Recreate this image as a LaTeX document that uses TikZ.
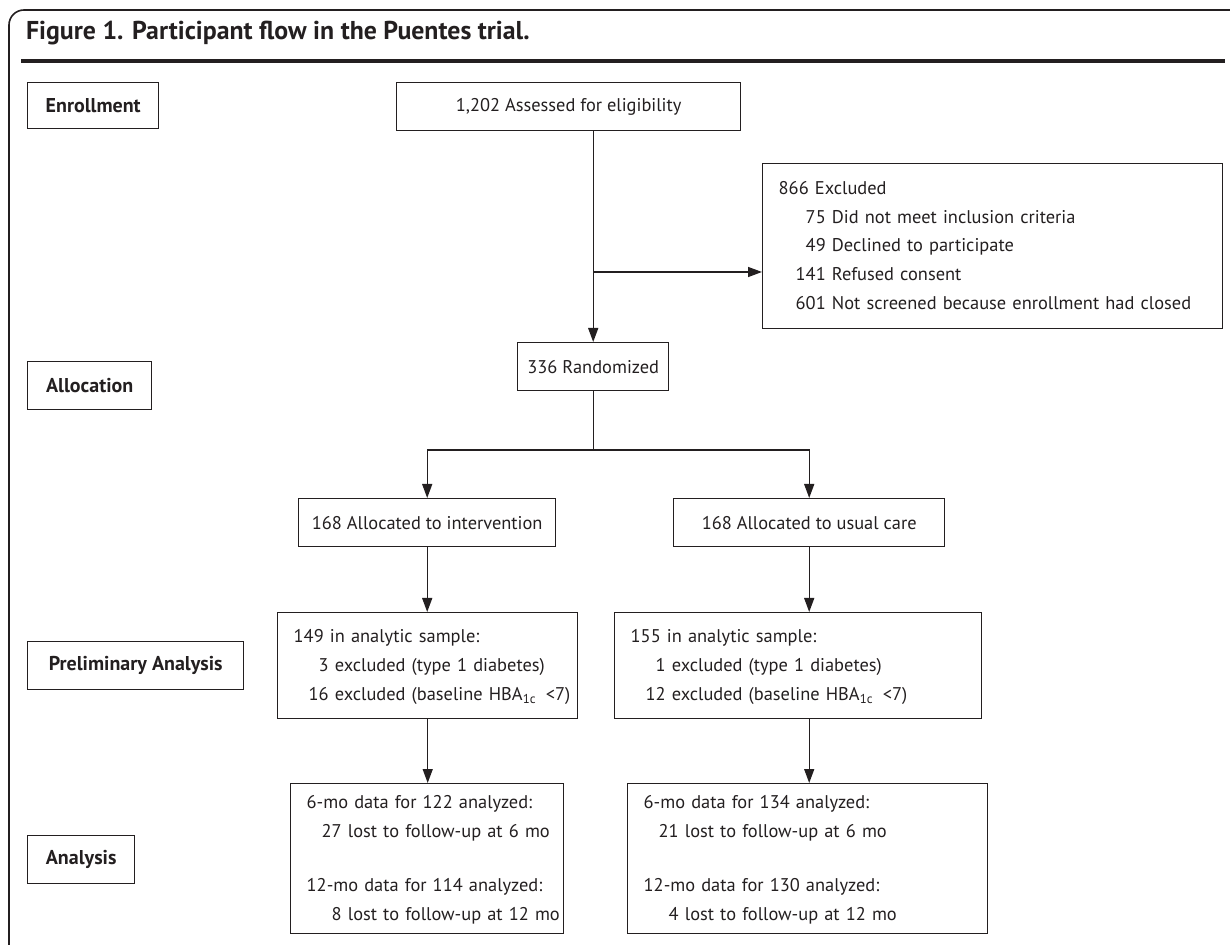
\documentclass[tikz,border=0pt]{standalone}
\usepackage{fontspec}
\setmainfont{PT Sans}
\usepackage{xcolor}
\usetikzlibrary{arrows.meta}
\definecolor{ink}{RGB}{35,31,32}
\renewcommand{\arraystretch}{1.2}

\begin{document}
\begin{tikzpicture}[x=0.5pt, y=-0.5pt, color=ink,
    every node/.style={font=\fontsize{9.2}{12}\selectfont},
    stage/.style={draw, line width=0.7pt, anchor=north west, inner sep=0pt,
      font=\fontsize{10}{12}\selectfont\bfseries},
    flowbox/.style={draw, line width=0.7pt, anchor=north west, inner sep=0pt},
    listbox/.style={flowbox, align=left, inner xsep=8pt},
    flowline/.style={line width=0.7pt},
    flowarrow/.style={flowline, -{Triangle[length=7pt, width=5pt]}}]
    \useasboundingbox (0,0) rectangle (1230,945);

    % Frame and heading
    \draw[line width=0.8pt, rounded corners=7.5pt] (9,945) -- (9,10) -- (1230,10);
    \node[anchor=west, font=\fontsize{12.9}{14}\selectfont\bfseries] (title) at (19,33)
      {Figure 1. Participant flow in the Puentes trial.};
    \draw[line width=2pt] (21,61) -- (1225,61);

    % Stage labels on the left
    \node[stage, minimum width=65.5pt, minimum height=23pt] (enroll) at (27,82) {Enrollment};
    \node[stage, minimum width=62pt, minimum height=24pt] (alloc) at (27,361) {Allocation};
    \node[stage, minimum width=108pt, minimum height=24pt] (prelim) at (27,641) {Preliminary Analysis};
    \node[stage, minimum width=53.5pt, minimum height=24pt] (analys) at (27,835) {Analysis};

    % Enrollment
    \node[flowbox, minimum width=172pt, minimum height=24pt] (assess) at (396,82)
      {1,202 Assessed for eligibility};
    \node[listbox, text width=214pt, minimum height=82.5pt] (excl) at (762,163) {%
      \begin{tabular}{@{\hspace{8.5pt}}r@{\ }l@{}}
        \multicolumn{2}{@{}l@{}}{866 Excluded}\\
        75 & Did not meet inclusion criteria\\
        49 & Declined to participate\\
        141 & Refused consent\\
        601 & Not screened because enrollment had closed
      \end{tabular}};

    % Allocation
    \node[flowbox, minimum width=75.5pt, minimum height=24pt] (rand) at (517,342) {336 Randomized};
    \node[flowbox, minimum width=128.5pt, minimum height=24pt] (alloci) at (298,498)
      {168 Allocated to intervention};
    \node[flowbox, minimum width=135.5pt, minimum height=24pt] (allocu) at (673,498)
      {168 Allocated to usual care};

    % Preliminary analysis
    \node[listbox, text width=134pt, minimum height=53pt] (prelimi) at (277,612) {%
      \begin{tabular}{@{\hspace{7.5pt}}r@{\ }l@{}}
        \multicolumn{2}{@{}l@{}}{149 in analytic sample:}\\
        3 & excluded (type 1 diabetes)\\
        16 & excluded (baseline HBA\textsubscript{1c} \,<7)
      \end{tabular}};
    \node[listbox, text width=167.5pt, minimum height=53pt] (prelimu) at (614,612) {%
      \begin{tabular}{@{\hspace{7.5pt}}r@{\ }l@{}}
        \multicolumn{2}{@{}l@{}}{155 in analytic sample:}\\
        1 & excluded (type 1 diabetes)\\
        12 & excluded (baseline HBA\textsubscript{1c} \,<7)
      \end{tabular}};

    % Analysis
    \node[listbox, text width=120.5pt, minimum height=75pt] (analysi) at (290,783) {%
      \begin{tabular}{@{\hspace{7.5pt}}r@{\ }l@{}}
        \multicolumn{2}{@{}l@{}}{6-mo data for 122 analyzed:}\\
        27 & lost to follow-up at 6 mo\\[13pt]
        \multicolumn{2}{@{}l@{}}{12-mo data for 114 analyzed:}\\
        8 & lost to follow-up at 12 mo
      \end{tabular}};
    \node[listbox, text width=164pt, minimum height=75pt] (analysu) at (627,783) {%
      \begin{tabular}{@{\hspace{7.5pt}}r@{\ }l@{}}
        \multicolumn{2}{@{}l@{}}{6-mo data for 134 analyzed:}\\
        21 & lost to follow-up at 6 mo\\[13pt]
        \multicolumn{2}{@{}l@{}}{12-mo data for 130 analyzed:}\\
        4 & lost to follow-up at 12 mo
      \end{tabular}};

    % Connectors
    \coordinate (branch) at (rand.north |- 0,272);
    \coordinate (split) at (rand.south |- 0,450);
    \draw[flowarrow] (assess.south -| rand.north) -- (rand.north);
    \draw[flowarrow] (branch) -- (branch -| excl.west);
    \draw[flowline] (rand.south) -- (split);
    \draw[flowarrow] (split) -| (alloci.north);
    \draw[flowarrow] (split) -| (allocu.north);
    \draw[flowarrow] (alloci.south) -- (alloci.south |- prelimi.north);
    \draw[flowarrow] (allocu.south) -- (allocu.south |- prelimu.north);
    \draw[flowarrow] (prelimi.south) -- (prelimi.south |- analysi.north);
    \draw[flowarrow] (allocu.south |- prelimu.south) -- (allocu.south |- analysu.north);
\end{tikzpicture}
\end{document}
